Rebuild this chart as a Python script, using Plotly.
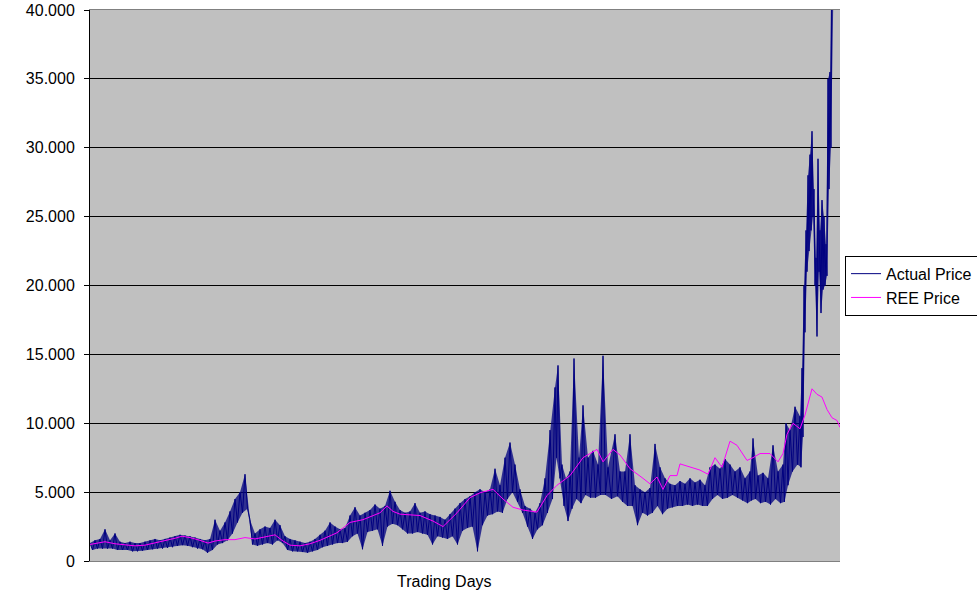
import plotly.graph_objects as go

# ---- data (trading day index, price) ----
actual_days = [0, 20, 40, 60, 80, 100, 120, 140, 160, 180, 200, 220, 240, 260, 280, 300, 320, 340, 360, 380,
               400, 420, 440, 460, 480, 500, 520, 540, 560, 580, 600, 620, 640, 660, 680, 700, 720, 740, 760, 780,
               800, 820, 840, 860, 880, 900, 920, 940, 960, 980, 1000, 1020, 1040, 1060, 1080, 1100, 1120, 1140, 1160, 1180,
               1200, 1220, 1240, 1260, 1280, 1300, 1320, 1340, 1360, 1380, 1400, 1420, 1440, 1460, 1480, 1500, 1520, 1540, 1560, 1580,
               1600, 1620, 1640, 1660, 1680, 1700, 1720, 1740, 1760, 1780, 1800, 1820, 1840, 1860, 1872, 1888, 1904, 1920, 1936, 1956,
               1972, 1992, 2012, 2032, 2052, 2072, 2100, 2120, 2140, 2160, 2180, 2200, 2220, 2240, 2260, 2280, 2300, 2320, 2340, 2360,
               2380, 2400, 2420, 2440, 2460, 2480, 2500, 2520, 2540, 2560, 2580, 2600, 2620, 2640, 2652, 2672, 2692, 2712, 2732, 2752,
               2772, 2784, 2800, 2820, 2840, 2848, 2856, 2864, 2872, 2880, 2888, 2896, 2904, 2912, 2920, 2928, 2936, 2944, 2952, 2960,
               2968, 2984]
actual_high = [1.3, 1.5, 1.6, 2.3, 1.5, 2.0, 1.4, 1.3, 1.4, 1.3, 1.3, 1.4, 1.5, 1.6, 1.5, 1.6, 1.7, 1.8, 1.9, 1.85,
               1.8, 1.7, 1.6, 1.5, 1.6, 3.0, 2.2, 2.8, 3.6, 4.5, 5.0, 6.3, 3.0, 2.0, 2.3, 2.5, 2.4, 3.0, 2.6, 1.8,
               1.6, 1.5, 1.4, 1.3, 1.4, 1.6, 1.9, 2.2, 2.8, 2.5, 2.3, 2.4, 3.3, 3.9, 3.3, 3.5, 3.7, 4.1, 3.8, 4.0,
               5.1, 4.3, 3.7, 3.5, 3.6, 4.2, 3.5, 3.6, 3.4, 3.3, 3.2, 3.0, 3.4, 3.8, 4.2, 4.5, 4.7, 5.0, 5.2, 5.0,
               5.2, 6.7, 5.5, 7.5, 8.6, 7.0, 5.2, 4.0, 3.8, 3.5, 4.2, 6.0, 9.5, 12.6, 14.2, 7.0, 6.0, 6.5, 14.7, 7.5,
               11.3, 7.5, 8.0, 7.0, 14.9, 6.8, 9.2, 6.5, 6.5, 9.2, 5.5, 5.2, 5.0, 5.3, 8.5, 6.8, 6.0, 5.6, 5.5, 5.8,
               5.6, 6.0, 5.7, 5.9, 5.5, 6.8, 7.0, 6.7, 7.4, 7.0, 6.5, 6.8, 6.0, 6.5, 8.9, 6.2, 6.4, 6.0, 8.4, 6.5,
               7.0, 10.0, 9.5, 11.2, 10.5, 14.0, 20.0, 24.0, 28.0, 29.5, 31.2, 27.0, 22.0, 29.2, 24.0, 26.2, 25.0, 23.0, 35.0, 35.5,
               46.0, 48.0]
actual_low = [0.8, 0.9, 0.9, 0.9, 0.9, 0.8, 0.8, 0.8, 0.7, 0.7, 0.75, 0.8, 0.85, 0.9, 0.9, 0.95, 1.0, 1.1, 1.15, 1.1,
              1.0, 0.9, 0.85, 0.6, 0.8, 1.2, 1.3, 1.5, 2.0, 2.8, 3.5, 3.8, 1.2, 1.1, 1.2, 1.3, 1.2, 1.5, 1.3, 0.8,
              0.7, 0.7, 0.65, 0.6, 0.7, 0.8, 1.0, 1.1, 1.2, 1.3, 1.3, 1.4, 1.8, 2.0, 0.85, 2.1, 2.2, 2.3, 1.1, 2.5,
              2.7, 2.6, 2.3, 2.0, 2.0, 2.1, 2.0, 1.9, 1.2, 1.8, 1.7, 1.6, 1.8, 1.2, 2.2, 2.4, 2.5, 0.7, 2.6, 3.3,
              3.4, 3.6, 3.5, 4.5, 5.0, 4.3, 3.5, 2.5, 1.6, 2.3, 2.6, 3.5, 4.5, 7.5, 6.0, 4.0, 2.9, 3.8, 4.5, 4.2,
              4.8, 4.6, 4.6, 4.8, 4.8, 4.5, 4.7, 4.3, 4.0, 4.0, 2.6, 3.5, 3.3, 3.5, 4.0, 3.4, 3.8, 3.9, 4.0, 4.0,
              4.1, 4.0, 4.1, 4.0, 4.0, 4.5, 4.8, 4.5, 4.6, 4.8, 4.6, 4.4, 4.2, 4.4, 4.5, 4.2, 4.3, 4.1, 4.5, 4.2,
              4.3, 5.5, 6.5, 7.0, 6.8, 9.0, 16.6, 21.0, 22.5, 24.0, 25.0, 20.0, 16.3, 21.0, 18.0, 19.7, 20.0, 20.7, 27.0, 30.0,
              44.0, 45.0]

ree_days = [0, 40, 60, 100, 140, 180, 220, 260, 300, 340, 368, 400, 440, 472, 500, 540, 580, 620, 660, 700,
            740, 768, 800, 840, 880, 920, 960, 988, 1040, 1092, 1160, 1188, 1212, 1240, 1320, 1372, 1412, 1468, 1520, 1560,
            1612, 1652, 1692, 1732, 1788, 1828, 1868, 1920, 1972, 2028, 2052, 2092, 2120, 2160, 2212, 2240, 2268, 2292, 2320, 2348,
            2360, 2400, 2440, 2472, 2500, 2528, 2560, 2588, 2628, 2652, 2680, 2720, 2752, 2772, 2788, 2812, 2840, 2860, 2888, 2908,
            2928, 2948, 2968, 2988, 3000]
ree_price = [1.2, 1.35, 1.4, 1.25, 1.15, 1.1, 1.15, 1.3, 1.45, 1.65, 1.8, 1.7, 1.5, 1.3, 1.45, 1.55, 1.55, 1.7, 1.6, 1.75,
             1.9, 1.5, 1.15, 1.1, 1.25, 1.5, 1.8, 2.05, 2.8, 3.0, 3.5, 4.0, 3.6, 3.4, 3.3, 2.9, 2.5, 3.5, 4.6, 4.95,
             5.2, 4.5, 3.9, 3.7, 3.55, 4.75, 5.5, 6.2, 7.5, 8.1, 7.2, 8.1, 7.7, 6.7, 6.0, 5.6, 6.1, 5.2, 6.2, 6.2,
             7.05, 6.8, 6.6, 6.3, 7.5, 6.8, 8.7, 8.4, 7.3, 7.5, 7.8, 7.8, 7.2, 7.8, 9.2, 10.0, 9.6, 10.6, 12.5, 12.1,
             11.9, 11.0, 10.4, 10.2, 9.7]

tick_values = [0, 5, 10, 15, 20, 25, 30, 35, 40]
tick_labels = ["0", "5.000", "10.000", "15.000", "20.000", "25.000", "30.000", "35.000", "40.000"]

# build the zig-zag trace of the daily high/low envelope
xs, ys = [], []
lo_x = []
for i, d in enumerate(actual_days):
    nxt = actual_days[i + 1] if i + 1 < len(actual_days) else d + 16
    mid = (d + nxt) / 2
    xs += [d, mid]
    ys += [actual_high[i], actual_low[i]]
    lo_x.append(mid)

FONT = "Liberation Sans, Arial, sans-serif"
NAVY = "#000080"

fig = go.Figure()
# shaded envelope (the dense daily band)
fig.add_trace(go.Scatter(x=actual_days, y=actual_high, mode="lines", line=dict(width=0, color=NAVY),
                         showlegend=False, hoverinfo="skip"))
fig.add_trace(go.Scatter(x=lo_x, y=actual_low, mode="lines", line=dict(width=0, color=NAVY),
                         fill="tonexty", fillcolor="rgba(0,0,128,0.75)",
                         showlegend=False, hoverinfo="skip"))
fig.add_trace(go.Scatter(x=xs, y=ys, mode="lines", name="Actual Price",
                         line=dict(color=NAVY, width=1)))
fig.add_trace(go.Scatter(x=ree_days, y=ree_price, mode="lines", name="REE Price",
                         line=dict(color="#FF00FF", width=1)))

fig.update_layout(
    width=977, height=600,
    margin=dict(l=90, r=137, t=10, b=39, autoexpand=False),
    paper_bgcolor="white", plot_bgcolor="#C0C0C0",
    font=dict(family=FONT, size=16, color="black"),
    showlegend=True,
    legend=dict(x=1.0067, y=0.554, xanchor="left", yanchor="top",
                bordercolor="black", borderwidth=1, bgcolor="white",
                font=dict(family=FONT, size=16), itemwidth=30,
                tracegroupgap=0, traceorder="normal"),
    xaxis=dict(range=[0, 3000], showticklabels=False, ticks="", showgrid=False,
               zeroline=False, showline=True, linecolor="#808080", linewidth=1, mirror=True),
    yaxis=dict(range=[0, 40], tickvals=tick_values, ticktext=tick_labels,
               ticks="outside", ticklen=5, tickcolor="black", ticklabelstandoff=6,
               showgrid=True, gridcolor="black", gridwidth=1, zeroline=False,
               showline=True, linecolor="black", linewidth=1, mirror=False),
    annotations=[dict(text="Trading Days", xref="paper", yref="paper", x=0.472, y=0,
                      yshift=-20, xanchor="center", yanchor="middle", showarrow=False,
                      font=dict(family=FONT, size=16))],
)
fig.write_html("out.html", config={"displayModeBar": False},
               post_script="document.body.style.margin='0';document.body.style.overflow='hidden';")
